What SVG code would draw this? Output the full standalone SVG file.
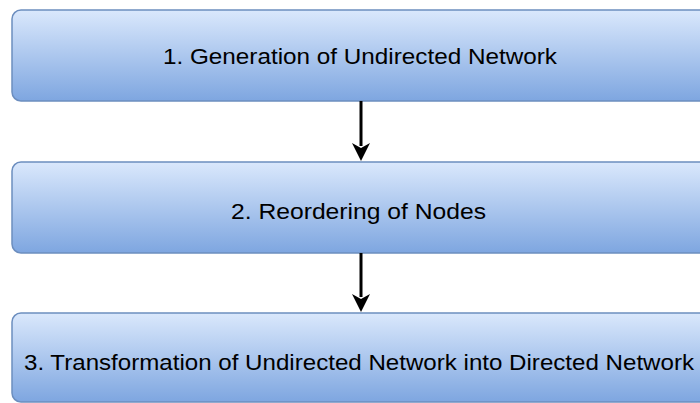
<svg xmlns="http://www.w3.org/2000/svg" width="700" height="403" viewBox="0 0 700 403">
<style>
.box{fill:url(#g);stroke:#6c8ebf;stroke-width:1.5}
.lbl{font-family:"Liberation Sans",Arial,sans-serif;font-size:22.5px;fill:#000;text-anchor:middle}
.edge{stroke:#000;stroke-width:3;fill:none}
</style>
<defs>
<linearGradient id="g" x1="0" y1="0" x2="0" y2="1">
<stop offset="0" stop-color="#dae8fc"/>
<stop offset="1" stop-color="#7ea6e0"/>
</linearGradient>
</defs>
<rect width="700" height="403" fill="#fff"/>
<g id="n1"><rect class="box" x="12" y="10" width="696" height="91" rx="9"/><text class="lbl" x="360" y="63.5" textLength="394" lengthAdjust="spacingAndGlyphs">1. Generation of Undirected Network</text></g>
<g id="n2"><rect class="box" x="12" y="162" width="696" height="91" rx="9"/><text class="lbl" x="358.5" y="218.5" textLength="255" lengthAdjust="spacingAndGlyphs">2. Reordering of Nodes</text></g>
<g id="n3"><rect class="box" x="12" y="313" width="696" height="89" rx="9"/><text class="lbl" x="359" y="369.5" textLength="670" lengthAdjust="spacingAndGlyphs">3. Transformation of Undirected Network into Directed Network</text></g>
<g id="edges">
<path class="edge" d="M361 101V146"/>
<path d="M352 143L361 161L370 143L361 148Z" fill="#000"/>
<path class="edge" d="M361 253V297"/>
<path d="M352 294L361 312L370 294L361 299Z" fill="#000"/>
</g>
</svg>
